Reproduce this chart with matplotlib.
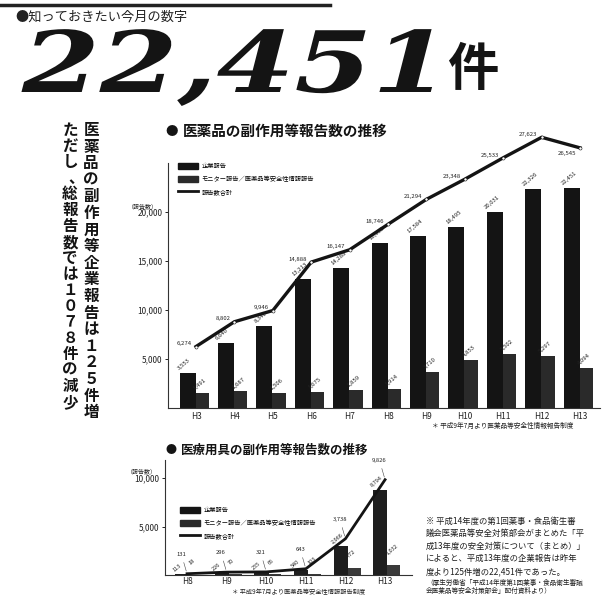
import numpy as np
import matplotlib
matplotlib.use('Agg')
import matplotlib.pyplot as plt
from matplotlib.patches import Patch
from matplotlib.lines import Line2D
from matplotlib.patheffects import AbstractPathEffect
from matplotlib.transforms import Affine2D

plt.rcParams['font.family'] = ['Noto Sans CJK JP', 'DejaVu Sans']

# 医薬品の副作用等報告数 (H3-H13)
drug_years = ['H3', 'H4', 'H5', 'H6', 'H7', 'H8', 'H9', 'H10', 'H11', 'H12', 'H13']
drug_company = [3553, 6640, 8340, 13213, 14288, 16832, 17584, 18495, 20031, 22326, 22451]
drug_monitor = [1491, 1687, 1506, 1675, 1859, 1914, 3710, 4853, 5502, 5297, 4094]
drug_total = [6274, 8802, 9946, 14888, 16147, 18746, 21294, 23348, 25533, 27623, 26545]

# 医療用具の副作用等報告数 (H8-H13)
dev_years = ['H8', 'H9', 'H10', 'H11', 'H12', 'H13']
dev_company = [113, 226, 255, 540, 2966, 8794]
dev_monitor = [18, 70, 66, 103, 772, 1032]
dev_total = [131, 296, 321, 643, 3738, 9826]

legend_labels = ['企業報告', 'モニター報告／医薬品等安全性情報報告', '報告数合計']

W, H = 606, 598
INK = '#141414'


def fx(x):
    return x / W


def fy(y):
    return 1 - y / H


class Widen(AbstractPathEffect):
    """stretch glyphs horizontally around x0 (display px)"""

    def __init__(self, sx, x0):
        super().__init__()
        self._sx = sx
        self._x0 = x0

    def draw_path(self, renderer, gc, tpath, affine, rgbFace=None):
        st = Affine2D().translate(-self._x0, 0).scale(self._sx, 1).translate(self._x0, 0)
        renderer.draw_path(gc, tpath, affine + st, rgbFace)


fig = plt.figure(figsize=(W / 100, H / 100), dpi=100)
fig.patch.set_facecolor('white')

# header
fig.add_artist(Line2D([0, fx(330)], [fy(5), fy(5)], color='#222222', lw=2.5,
                      transform=fig.transFigure))
fig.text(fx(15), fy(17), '●知っておきたい今月の数字', fontsize=9.5, va='center', color='#222222')
fig.text(fx(22), fy(92), '22,451', fontsize=61, family='DejaVu Serif', weight='bold',
         style='italic', va='baseline', color=INK, path_effects=[Widen(1.32, 22)])
fig.text(fx(447), fy(69), '件', fontsize=37, weight='bold', va='center', color=INK)

# vertical headline, one glyph per cell
right_col = '医薬品の副作用等企業報告は１２５件増'
left_col = 'ただし、総報告数では１０７８件の減少'
for k, ch in enumerate(right_col):
    fig.text(fx(91), fy(130 + k * 16.6), ch, fontsize=11.2, weight='bold',
             ha='center', va='center', color=INK)
for k, ch in enumerate(left_col):
    dx = 6 if ch == '、' else 0
    fig.text(fx(70 + dx), fy(130 + k * 16.0), ch, fontsize=11.2, weight='bold',
             ha='center', va='center', color=INK)


def style_axes(ax, names, yticks, top_bound, pad):
    ax.spines['top'].set_visible(False)
    ax.spines['right'].set_visible(False)
    ax.spines['left'].set_bounds(0, top_bound)
    for s in ('left', 'bottom'):
        ax.spines[s].set_color('#333333')
        ax.spines[s].set_linewidth(0.8)
    ax.set_xticks(np.arange(len(names)))
    ax.set_xticklabels(names, fontsize=6, color='#222222')
    ax.tick_params(axis='x', length=0, pad=pad)
    ax.set_yticks(yticks)
    ax.set_yticklabels([f'{v:,}' for v in yticks], fontsize=6, color='#222222')
    ax.tick_params(axis='y', length=2.5, width=0.6, pad=1.5)
    ax.set_facecolor('none')


def legend(ax, x, y):
    handles = [Patch(color=INK), Patch(color='#2a2a2a'), Line2D([], [], color=INK, lw=2)]
    ax.legend(handles, legend_labels, loc='upper left', bbox_to_anchor=(fx(x), fy(y)),
              bbox_transform=fig.transFigure, frameon=False, fontsize=4.5,
              handlelength=3.2, handleheight=1.1, labelspacing=0.8,
              handletextpad=0.6, borderaxespad=0, borderpad=0)


# ---- 医薬品 chart
fig.text(fx(165), fy(131), '●', fontsize=9, va='center', color=INK)
fig.text(fx(183), fy(131), '医薬品の副作用等報告数の推移', fontsize=10.5, weight='bold',
         va='center', color=INK)

ax1 = fig.add_axes([fx(168), fy(408), (600 - 168) / W, (408 - 125) / H])
x1 = np.arange(len(drug_years))
ax1.set_xlim(-0.73, 10.52)
ax1.set_ylim(0, 28878)
ax1.bar(x1 - 0.43, drug_company, width=0.42, align='edge', color=INK)
ax1.bar(x1 - 0.01, drug_monitor, width=0.35, align='edge', color='#2a2a2a')
ax1.plot(x1, drug_total, color=INK, lw=2.4, marker='o', ms=2.2, mfc='white',
         mec=INK, mew=0.4, clip_on=False, zorder=4)
for i, v in enumerate(drug_company):
    ax1.text(i - 0.43, v + 200, f'{v:,}', rotation=40, rotation_mode='anchor',
             ha='left', va='bottom', fontsize=4.3, color='#222222')
for i, v in enumerate(drug_monitor):
    ax1.text(i - 0.01, v + 200, f'{v:,}', rotation=40, rotation_mode='anchor',
             ha='left', va='bottom', fontsize=4.3, color='#222222')
for i, v in enumerate(drug_total):
    off = (-3, -4) if i == len(drug_total) - 1 else (-3, 2)
    ax1.annotate(f'{v:,}', (i, v), xytext=off, textcoords='offset points',
                 ha='right', va='center', fontsize=4.3, color='#222222')
style_axes(ax1, drug_years, [5000, 10000, 15000, 20000], 25000, 3)
fig.text(fx(143), fy(206), '（報告数）', fontsize=4.3, ha='center', va='center', color='#222222')
legend(ax1, 178, 162)
fig.text(fx(432), fy(426), '＊ 平成9年7月より医薬品等安全性情報報告制度', fontsize=4.8,
         va='center', color='#222222')

# ---- 医療用具 chart
fig.text(fx(165), fy(450), '●', fontsize=8, va='center', color=INK)
fig.text(fx(181), fy(450), '医療用具の副作用等報告数の推移', fontsize=9, weight='bold',
         va='center', color=INK)

ax2 = fig.add_axes([fx(165), fy(575), (412 - 165) / W, (575 - 460) / H])
x2 = np.arange(len(dev_years))
ax2.set_xlim(-0.556, 5.68)
ax2.set_ylim(0, 11856)
ax2.bar(x2 - 0.30, dev_company, width=0.36, align='edge', color='#1e1e1e')
ax2.bar(x2 + 0.06, dev_monitor, width=0.32, align='edge', color='#3a3a3a')
ax2.plot(x2, dev_total, color=INK, lw=2.0, clip_on=False, zorder=4)
for i, v in enumerate(dev_company):
    ax2.text(i - 0.30, v + 150, f'{v:,}', rotation=40, rotation_mode='anchor',
             ha='left', va='bottom', fontsize=4.0, color='#222222')
for i, v in enumerate(dev_monitor):
    ax2.text(i + 0.1, v + 900, f'{v:,}', rotation=40, rotation_mode='anchor',
             ha='left', va='bottom', fontsize=4.0, color='#222222')
for i, v in enumerate(dev_total):
    ax2.annotate(f'{v:,}', (i, v), xytext=(-4, 12), textcoords='offset points',
                 ha='center', va='bottom', fontsize=4.2, color='#222222',
                 arrowprops=dict(arrowstyle='-', lw=0.4, color='#444444'))
style_axes(ax2, dev_years, [5000, 10000], 11856, 1.2)
fig.text(fx(142), fy(471), '（報告数）', fontsize=4.3, ha='center', va='center', color='#222222')
legend(ax2, 180, 506)
fig.text(fx(232), fy(592), '＊ 平成9年7月より医薬品等安全性情報報告制度', fontsize=4.5,
         va='center', color='#222222')

# note block
note = ['※ 平成14年度の第1回薬事・食品衛生審',
        '議会医薬品等安全対策部会がまとめた「平',
        '成13年度の安全対策について（まとめ）」',
        'によると、平成13年度の企業報告は昨年',
        '度より125件増の22,451件であった。']
for k, line in enumerate(note):
    fig.text(fx(426), fy(521 + k * 12.6), line, fontsize=6, va='center', color='#1e1e1e')
src = ['（厚生労働省「平成14年度第1回薬事・食品衛生審議',
       '会医薬品等安全対策部会」配付資料より）']
for k, line in enumerate(src):
    fig.text(fx(426), fy(583 + k * 8), line, fontsize=4.8, va='center', color='#1e1e1e')

fig.savefig('out.png', dpi=100, facecolor='white')
